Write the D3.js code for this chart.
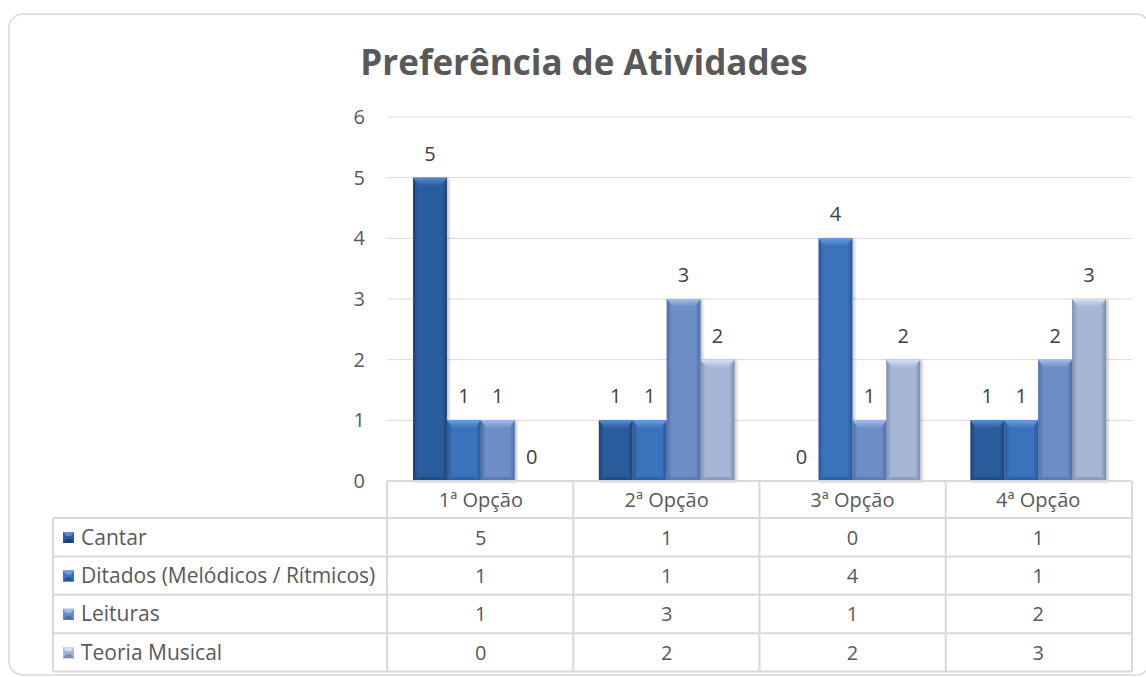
<!DOCTYPE html>
<html>
<head>
<meta charset="utf-8">
<script src="https://cdn.jsdelivr.net/npm/d3@7"></script>
<style>
  body { margin: 0; background: #ffffff; }
  svg text { font-family: "Open Sans", "Noto Sans", sans-serif; fill: #595959; }
</style>
</head>
<body>
<svg id="chart" width="1146" height="677"></svg>
<script>
// data
const categories = ["1ª Opção", "2ª Opção", "3ª Opção", "4ª Opção"];
const seriesNames = ["Cantar", "Ditados (Melódicos / Rítmicos)", "Leituras", "Teoria Musical"];
const cantar = [5, 1, 0, 1];
const ditados = [1, 1, 4, 1];
const leituras = [1, 3, 1, 2];
const teoria = [0, 2, 2, 3];
const yTicks = [0, 1, 2, 3, 4, 5, 6];

const seriesValues = [cantar, ditados, leituras, teoria];

// colours: [dark edge, body, light top]
const palette = [
  ["#1d4273", "#2c5d9e", "#5a8ccc"],
  ["#27579a", "#3b72bc", "#6a9de0"],
  ["#4c6ea8", "#6d8dc7", "#a3bde8"],
  ["#7c8db0", "#a6b6d7", "#d6e0f2"]
];

const svg = d3.select("#chart");

// outer frame (right side runs past the picture edge)
svg.append("rect")
  .attr("x", 9)
  .attr("y", 14)
  .attr("width", 1141)
  .attr("height", 661)
  .attr("rx", 14)
  .attr("fill", "#fff")
  .attr("stroke", "#d9d9d9")
  .attr("stroke-width", 1.5);

// title
svg.append("text")
  .text("Preferência de Atividades")
  .attr("x", 584)
  .attr("y", 75)
  .attr("text-anchor", "middle")
  .style("font-size", "35px")
  .style("font-weight", "bold");

const plotLeft = 387, plotRight = 1132, plotTop = 117, plotBase = 481;

const y = d3.scaleLinear().domain([0, 6]).range([plotBase, plotTop]);

const x0 = d3.scaleBand()
  .domain(categories)
  .range([plotLeft, plotRight])
  .paddingInner(0.27)
  .paddingOuter(0.14);

const x1 = d3.scaleBand()
  .domain(seriesNames)
  .range([0, x0.bandwidth()]);

const colStep = (plotRight - plotLeft) / categories.length;

// gradients
const defs = svg.append("defs");
palette.forEach(function(c, i) {
  const g = defs.append("linearGradient")
    .attr("id", "bar" + i)
    .attr("x1", "0").attr("x2", "1").attr("y1", "0").attr("y2", "0");
  g.append("stop").attr("offset", "0").attr("stop-color", c[0]);
  g.append("stop").attr("offset", "0.15").attr("stop-color", c[1]);
  g.append("stop").attr("offset", "0.85").attr("stop-color", c[1]);
  g.append("stop").attr("offset", "1").attr("stop-color", c[0]);

  const t = defs.append("linearGradient")
    .attr("id", "top" + i)
    .attr("x1", "0").attr("x2", "0").attr("y1", "0").attr("y2", "1");
  t.append("stop").attr("offset", "0").attr("stop-color", c[2]);
  t.append("stop").attr("offset", "1").attr("stop-color", c[1]);
});

const shadow = defs.append("filter").attr("id", "shadow")
  .attr("x", "-20%").attr("y", "-5%").attr("width", "150%").attr("height", "115%");
shadow.append("feDropShadow")
  .attr("dx", 2).attr("dy", 1).attr("stdDeviation", 1.5)
  .attr("flood-color", "#000").attr("flood-opacity", 0.25);

// gridlines
svg.append("g")
  .selectAll("line")
  .data(yTicks.slice(1))
  .join("line")
  .attr("x1", plotLeft)
  .attr("x2", plotRight)
  .attr("y1", d => y(d))
  .attr("y2", d => y(d))
  .attr("stroke", "#d9d9d9")
  .attr("stroke-width", 1);

// y axis labels
svg.append("g")
  .selectAll("text")
  .data(yTicks)
  .join("text")
  .text(d => d)
  .attr("x", 365)
  .attr("y", d => y(d) + 7)
  .attr("text-anchor", "end")
  .style("font-size", "20px");

// bars
const bevel = 6;
categories.forEach(function(cat, ci) {
  seriesNames.forEach(function(s, si) {
    const v = seriesValues[si][ci];
    const bx = x0(cat) + x1(s);
    const bw = x1.bandwidth();
    const by = y(v);
    const bh = plotBase - by;
    if (bh > 0) {
      const g = svg.append("g").attr("filter", "url(#shadow)");
      g.append("rect")
        .attr("x", bx)
        .attr("y", by)
        .attr("width", bw)
        .attr("height", bh)
        .attr("fill", "url(#bar" + si + ")");
      const tb = Math.min(bevel + 2, bh / 2);
      g.append("polygon")
        .attr("points", [
          [bx, by], [bx + bw, by], [bx + bw - bevel, by + tb], [bx + bevel, by + tb]
        ].map(p => p.join(",")).join(" "))
        .attr("fill", "url(#top" + si + ")");
      g.append("polygon")
        .attr("points", [
          [bx, plotBase], [bx + bw, plotBase], [bx + bw - bevel, plotBase - 4], [bx + bevel, plotBase - 4]
        ].map(p => p.join(",")).join(" "))
        .attr("fill", palette[si][0])
        .attr("opacity", 0.6);
    }
    svg.append("text")
      .text(v)
      .attr("x", bx + bw / 2)
      .attr("y", by - 17)
      .attr("text-anchor", "middle")
      .style("font-size", "20px")
      .style("fill", "#404040");
  });
});

// data table
const tableLeft = 53, rowH = 38.4, headTop = plotBase, headBottom = 518;
const lineColor = "#d9d9d9";
const tbl = svg.append("g");

// horizontal lines
tbl.append("line")
  .attr("x1", plotLeft).attr("x2", plotRight)
  .attr("y1", headTop).attr("y2", headTop)
  .attr("stroke", lineColor).attr("stroke-width", 2);
for (let r = 0; r <= seriesNames.length; r++) {
  tbl.append("line")
    .attr("x1", tableLeft).attr("x2", plotRight)
    .attr("y1", headBottom + r * rowH).attr("y2", headBottom + r * rowH)
    .attr("stroke", lineColor).attr("stroke-width", 2);
}
// vertical lines
tbl.append("line")
  .attr("x1", tableLeft).attr("x2", tableLeft)
  .attr("y1", headBottom).attr("y2", headBottom + seriesNames.length * rowH)
  .attr("stroke", lineColor).attr("stroke-width", 2);
for (let c = 0; c <= categories.length; c++) {
  tbl.append("line")
    .attr("x1", plotLeft + c * colStep).attr("x2", plotLeft + c * colStep)
    .attr("y1", headTop).attr("y2", headBottom + seriesNames.length * rowH)
    .attr("stroke", lineColor).attr("stroke-width", 2);
}

// header labels
categories.forEach(function(cat) {
  tbl.append("text")
    .text(cat)
    .attr("x", x0(cat) + x0.bandwidth() / 2)
    .attr("y", headTop + 26)
    .attr("text-anchor", "middle")
    .style("font-size", "20px");
});

// rows
seriesNames.forEach(function(s, si) {
  const ry = headBottom + si * rowH;
  const sw = tbl.append("g");
  sw.append("rect")
    .attr("x", 63).attr("y", ry + 14)
    .attr("width", 11).attr("height", 11)
    .attr("fill", palette[si][1]);
  sw.append("polygon")
    .attr("points", [[63, ry + 14], [74, ry + 14], [71, ry + 18], [66, ry + 18]].map(p => p.join(",")).join(" "))
    .attr("fill", palette[si][2]);
  sw.append("polygon")
    .attr("points", [[63, ry + 25], [74, ry + 25], [71, ry + 21], [66, ry + 21]].map(p => p.join(",")).join(" "))
    .attr("fill", palette[si][0]);

  tbl.append("text")
    .text(s)
    .attr("x", 81)
    .attr("y", ry + 26.5)
    .style("font-size", "21px");

  categories.forEach(function(cat, ci) {
    tbl.append("text")
      .text(seriesValues[si][ci])
      .attr("x", x0(cat) + x0.bandwidth() / 2)
      .attr("y", ry + 26.5)
      .attr("text-anchor", "middle")
      .style("font-size", "20px");
  });
});
</script>
</body>
</html>
